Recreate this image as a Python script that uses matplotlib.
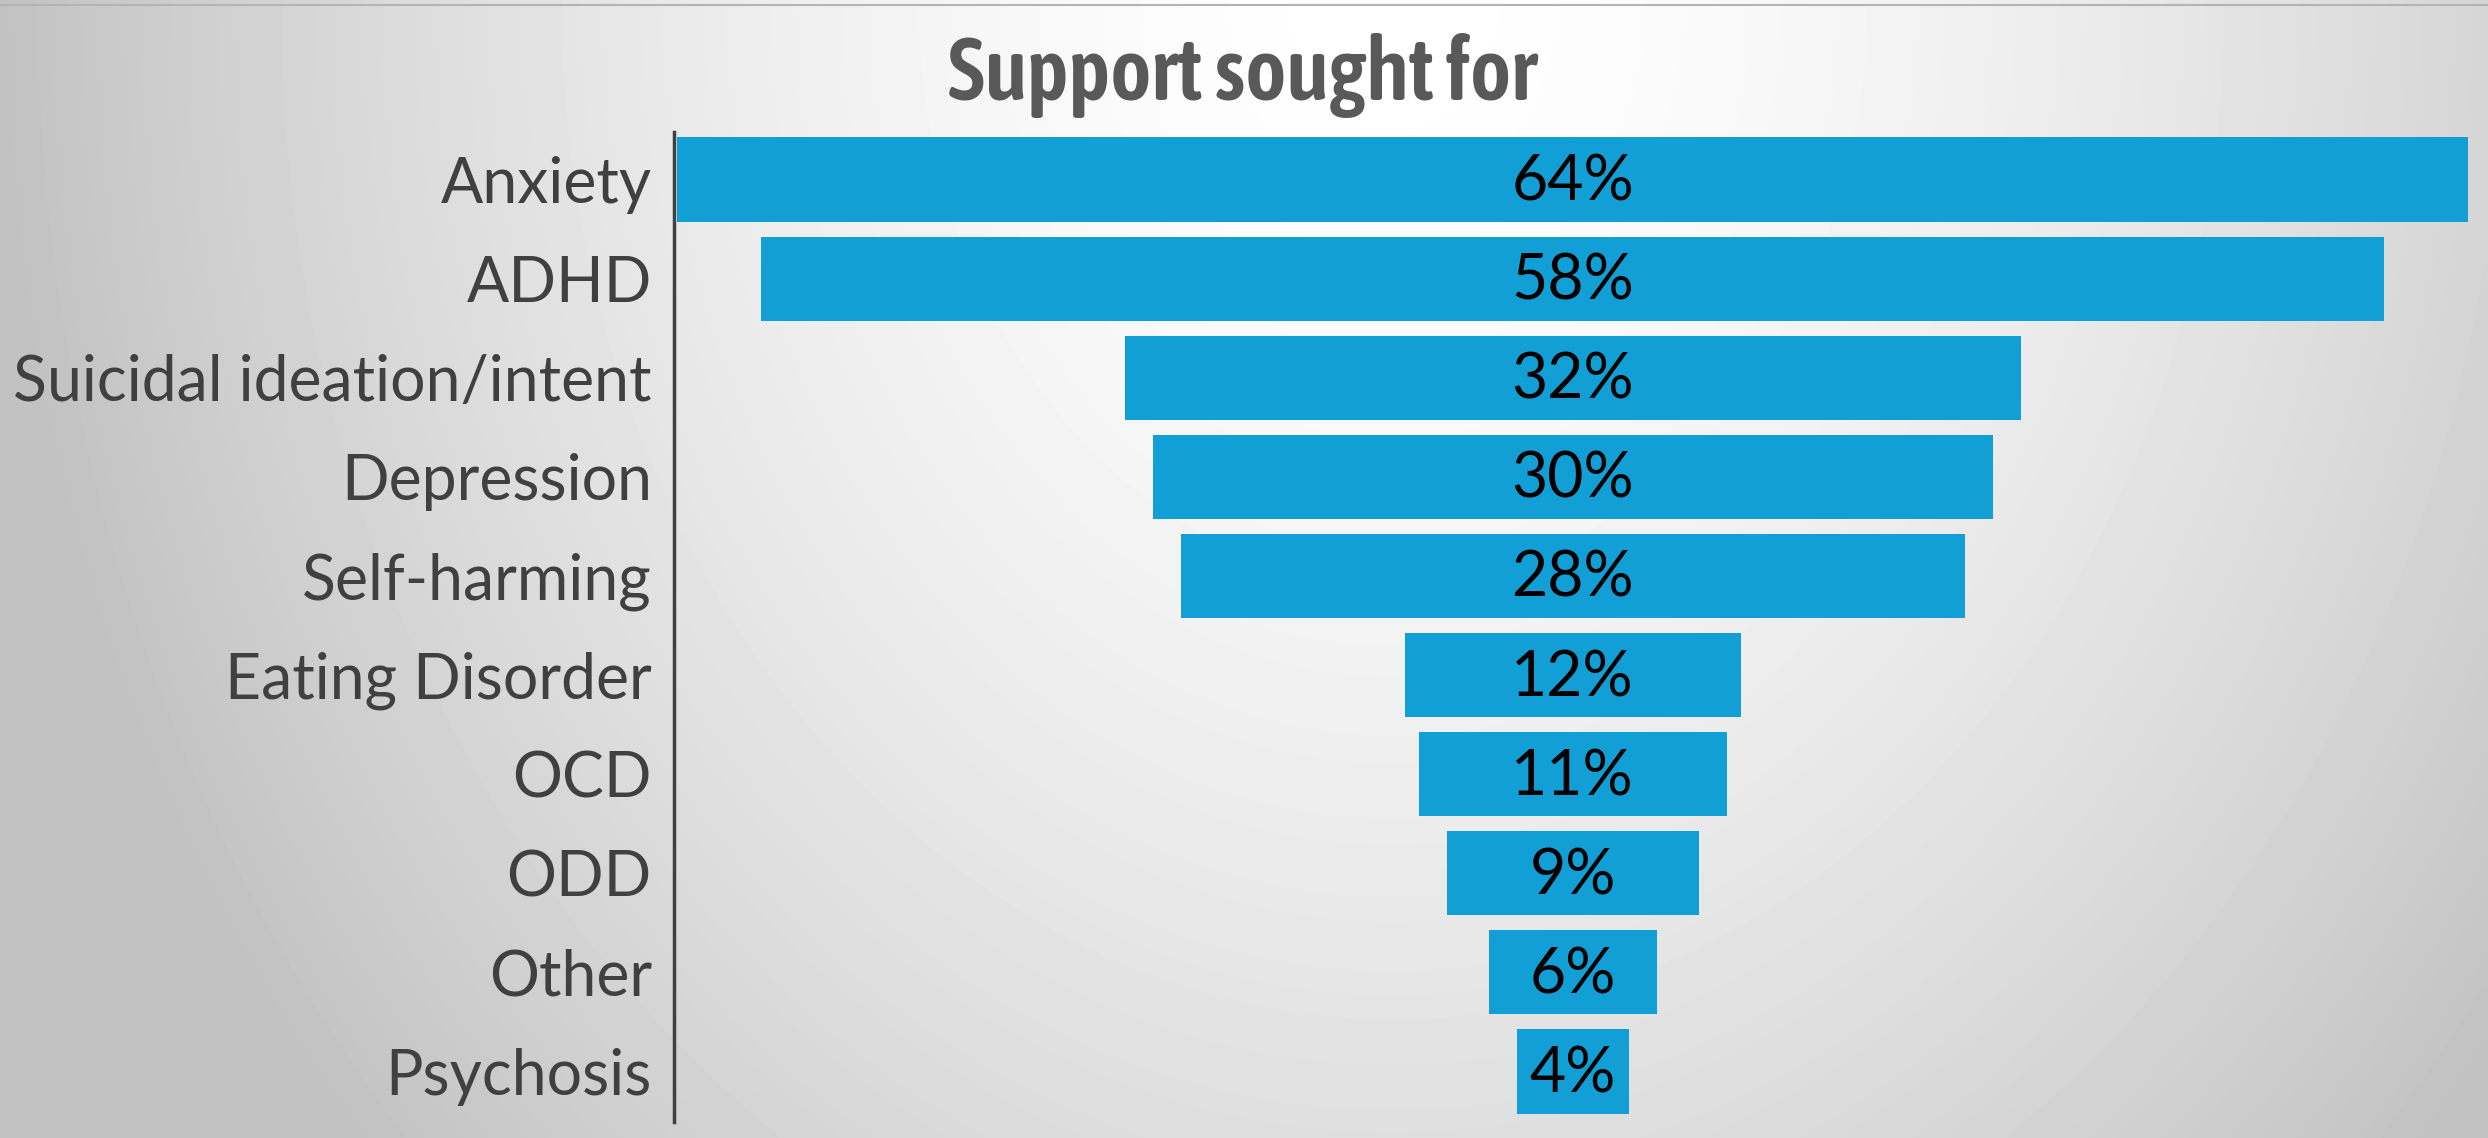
import numpy as np
import matplotlib.pyplot as plt
from matplotlib import font_manager
from matplotlib.font_manager import FontProperties
from matplotlib.lines import Line2D

categories = ['Anxiety', 'ADHD', 'Suicidal ideation/intent', 'Depression',
              'Self-harming', 'Eating Disorder', 'OCD', 'ODD', 'Other', 'Psychosis']
percent = [64, 58, 32, 30, 28, 12, 11, 9, 6, 4]

bar_color = '#119fd6'
label_color = '#404040'

W, H, DPI = 2488, 1138, 100
fig = plt.figure(figsize=(W / DPI, H / DPI), dpi=DPI)

# soft radial background, white at top centre fading to grey at the edges
bg = fig.add_axes([0, 0, 1, 1], zorder=-1)
gx, gy = np.meshgrid(np.linspace(0, 1, 400), np.linspace(0, 1, 200))
d = np.sqrt(((gx - 0.56) / 0.56) ** 2 + ((gy - 0.0) / 1.5) ** 2)
shade = 1 - 0.24 * np.clip(d, 0, 1) ** 1.6
bg.imshow(shade, cmap='gray', vmin=0, vmax=1, extent=[0, 1, 1, 0],
          aspect='auto', interpolation='bicubic')
bg.set_xlim(0, 1)
bg.set_ylim(1, 0)
bg.axis('off')

# thin rule along the top edge
fig.add_artist(Line2D([0, 1], [1 - 5 / H, 1 - 5 / H], color='#b4b4b4', lw=1.5,
                      transform=fig.transFigure))

ax = fig.add_axes([674 / W, 1 - 1122 / H, (W - 674) / W, (1122 - 132) / H])
ax.patch.set_alpha(0)

y = np.arange(len(categories))
vals = np.array(percent, dtype=float)
ax.barh(y, vals, left=-vals / 2, height=0.85, color=bar_color)

for yi, v in zip(y, percent):
    ax.text(0, yi + 0.03, f'{v}%', ha='center', va='center', fontsize=45,
            family='Lato', color='black')

ax.set_xlim(-32.1, 32.7)
ax.set_ylim(len(categories) - 0.49, -0.48)
ax.set_yticks(y)
ax.set_yticklabels(categories, fontsize=45, family='Lato', color=label_color)
ax.tick_params(axis='y', length=0, pad=16)
ax.set_xticks([])
for side in ['top', 'right', 'bottom']:
    ax.spines[side].set_visible(False)
ax.spines['left'].set_color(label_color)
ax.spines['left'].set_linewidth(2.5)

# narrow face for the title if one is installed
title_file = None
for want in ('asapcondensed-semibold.', 'asapcondensed-bold.'):
    for f in font_manager.fontManager.ttflist:
        if want in f.fname.lower():
            title_file = f.fname
            break
    if title_file:
        break

if title_file:
    title_prop = FontProperties(fname=title_file, size=63)
else:
    title_prop = FontProperties(family='DejaVu Sans', weight='bold', size=46)

fig.text(1242 / W, 1 - 76 / H, 'Support sought for', ha='center', va='center',
         fontproperties=title_prop, color='#595959')

fig.savefig('out.png', dpi=DPI)
